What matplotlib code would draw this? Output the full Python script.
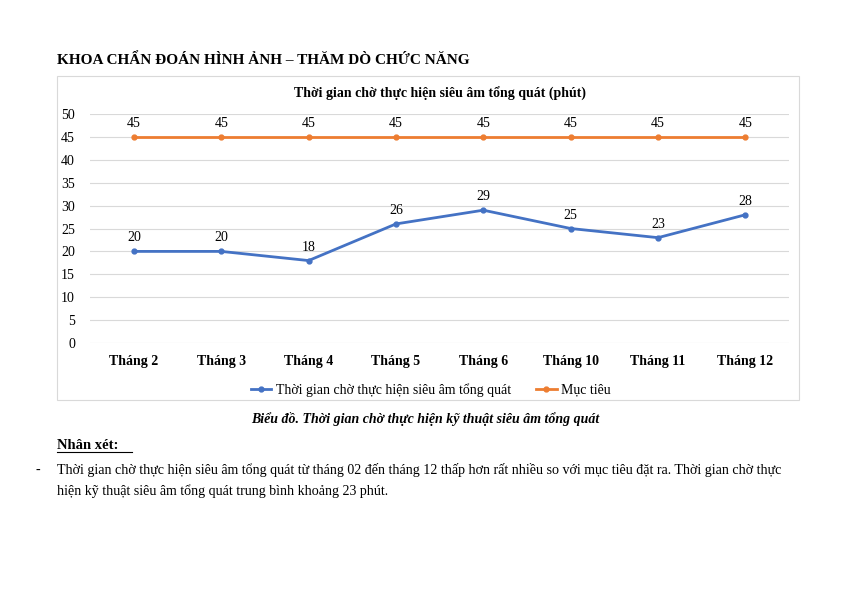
import matplotlib.pyplot as plt
from matplotlib.patches import Rectangle

months = ['Tháng 2', 'Tháng 3', 'Tháng 4', 'Tháng 5', 'Tháng 6',
          'Tháng 10', 'Tháng 11', 'Tháng 12']
wait_time = [20, 20, 18, 26, 29, 25, 23, 28]
target = [45, 45, 45, 45, 45, 45, 45, 45]

plt.rcParams['font.family'] = ['Liberation Serif', 'DejaVu Serif']

fig = plt.figure(figsize=(8.43, 5.96), dpi=100)

# chart frame
fig.patches.append(Rectangle((0.0676, 0.329), 0.8804, 0.543, transform=fig.transFigure,
                             fill=False, edgecolor='#d9d9d9', linewidth=0.8))

ax = fig.add_axes([0.107, 0.4245, 0.829, 0.3842])
x = range(len(months))
ax.plot(x, wait_time, color='#4472C4', marker='o', markersize=3.5, linewidth=2,
        label='Thời gian chờ thực hiện siêu âm tổng quát')
ax.plot(x, target, color='#ED7D31', marker='o', markersize=3.5, linewidth=2,
        label='Mục tiêu')
for i in x:
    ax.annotate(str(wait_time[i]), (i, wait_time[i]), xytext=(0, 5), textcoords='offset points',
                ha='center', va='bottom', fontsize=10)
    ax.annotate(str(target[i]), (i, target[i]), xytext=(0, 5), textcoords='offset points',
                ha='center', va='bottom', fontsize=10)

ax.set_xlim(-0.5, len(months) - 0.5)
ax.set_ylim(0, 50)
ax.set_yticks(range(0, 51, 5))
ax.set_xticks(list(x))
ax.set_xticklabels(months, fontweight='bold')
ax.tick_params(axis='both', length=0, labelsize=10)
ax.tick_params(axis='x', pad=9)
ax.tick_params(axis='y', pad=11)
ax.grid(axis='y', color='#d9d9d9', linewidth=0.8)
ax.set_axisbelow(True)
for s in ax.spines.values():
    s.set_visible(False)
ax.set_title('Thời gian chờ thực hiện siêu âm tổng quát (phút)', fontsize=10,
             fontweight='bold', pad=12)
ax.legend(loc='upper center', bbox_to_anchor=(0.487, -0.12), ncol=2, frameon=False,
          fontsize=10, handlelength=1.5, handletextpad=0.3, columnspacing=1.8)

fig.text(0.068, 0.9, 'KHOA CHẨN ĐOÁN HÌNH ẢNH – THĂM DÒ CHỨC NĂNG', fontsize=11,
         fontweight='bold', va='center')
fig.text(0.505, 0.297, 'Biểu đồ. Thời gian chờ thực hiện kỹ thuật siêu âm tổng quát',
         fontsize=10, fontweight='bold', style='italic', ha='center', va='center')
fig.text(0.068, 0.253, 'Nhân xét:', fontsize=10.5, fontweight='bold', va='center')
fig.add_artist(plt.Line2D([0.068, 0.156], [0.241, 0.241], color='black', linewidth=0.8))
fig.text(0.042, 0.211, '-', fontsize=10, va='center')
fig.text(0.068, 0.211, 'Thời gian chờ thực hiện siêu âm tổng quát từ tháng 02 đến tháng 12 thấp hơn '
         'rất nhiều so với mục tiêu đặt ra. Thời gian chờ thực', fontsize=10.1, va='center')
fig.text(0.068, 0.176, 'hiện kỹ thuật siêu âm tổng quát trung bình khoảng 23 phút.',
         fontsize=10.1, va='center')

fig.savefig('out.png', dpi=100)
